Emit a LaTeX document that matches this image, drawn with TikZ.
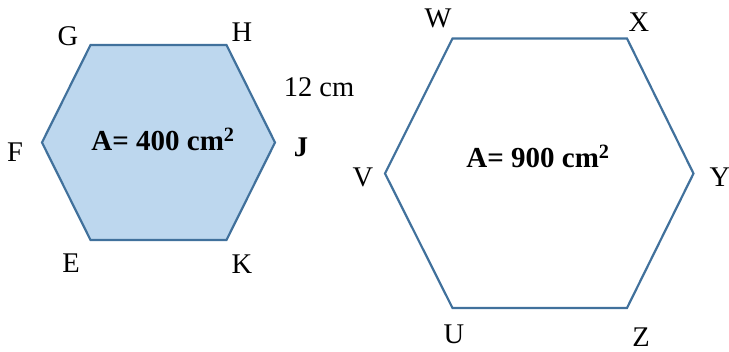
\documentclass[tikz,border=0pt]{standalone}
\usepackage{fontspec}
\setmainfont{Liberation Serif}
\definecolor{hexline}{HTML}{41719C}
\definecolor{hexfill}{HTML}{BDD7EE}
\tikzset{
  hexside/.style={draw=hexline, line width=2.2pt, line join=miter},
  vlabel/.style={inner sep=0pt, font=\fontsize{28.5}{32}\selectfont},
  alabel/.style={inner sep=0pt, font=\fontsize{29}{32}\selectfont\bfseries}
}
\begin{document}
\begin{tikzpicture}[x=1pt,y=-1pt]
\useasboundingbox (0,0) rectangle (729,352);
% small hexagon
\coordinate (G) at (90.5,45);
\coordinate (H) at (226.5,45);
\coordinate (J) at (275,142.5);
\coordinate (K) at (226.5,240);
\coordinate (E) at (90.5,240);
\coordinate (F) at (42,142.5);
\draw[hexside, fill=hexfill] (G) -- (H) -- (J) -- (K) -- (E) -- (F) -- cycle;
% large hexagon
\coordinate (W) at (452.5,38.5);
\coordinate (X) at (627,38.5);
\coordinate (Y) at (693.5,173.5);
\coordinate (Z) at (627,308);
\coordinate (U) at (452.5,308);
\coordinate (V) at (385,173.5);
\draw[hexside] (W) -- (X) -- (Y) -- (Z) -- (U) -- (V) -- cycle;
% labels
\node[vlabel] (lG) at (68,36) {G};
\node[vlabel] (lH) at (242,32) {H};
\node[vlabel] (lF) at (15,152) {F};
\node[vlabel, font=\fontsize{28.5}{32}\selectfont\bfseries] (lJ) at (301,147) {J};
\node[vlabel] (lE) at (71,263) {E};
\node[vlabel] (lK) at (242,264) {K};
\node[vlabel] (l12) at (319,87) {12 cm};
\node[vlabel] (lW) at (438,18) {W};
\node[vlabel] (lX) at (639,22) {X};
\node[vlabel] (lV) at (363,177) {V};
\node[vlabel] (lY) at (720,177) {Y};
\node[vlabel] (lU) at (454,334) {U};
\node[vlabel] (lZ) at (641,337) {Z};
\node[alabel] (a1) at (163,139) {A= 400 cm\textsuperscript{2}};
\node[alabel] (a2) at (538,156) {A= 900 cm\textsuperscript{2}};
\end{tikzpicture}
\end{document}
